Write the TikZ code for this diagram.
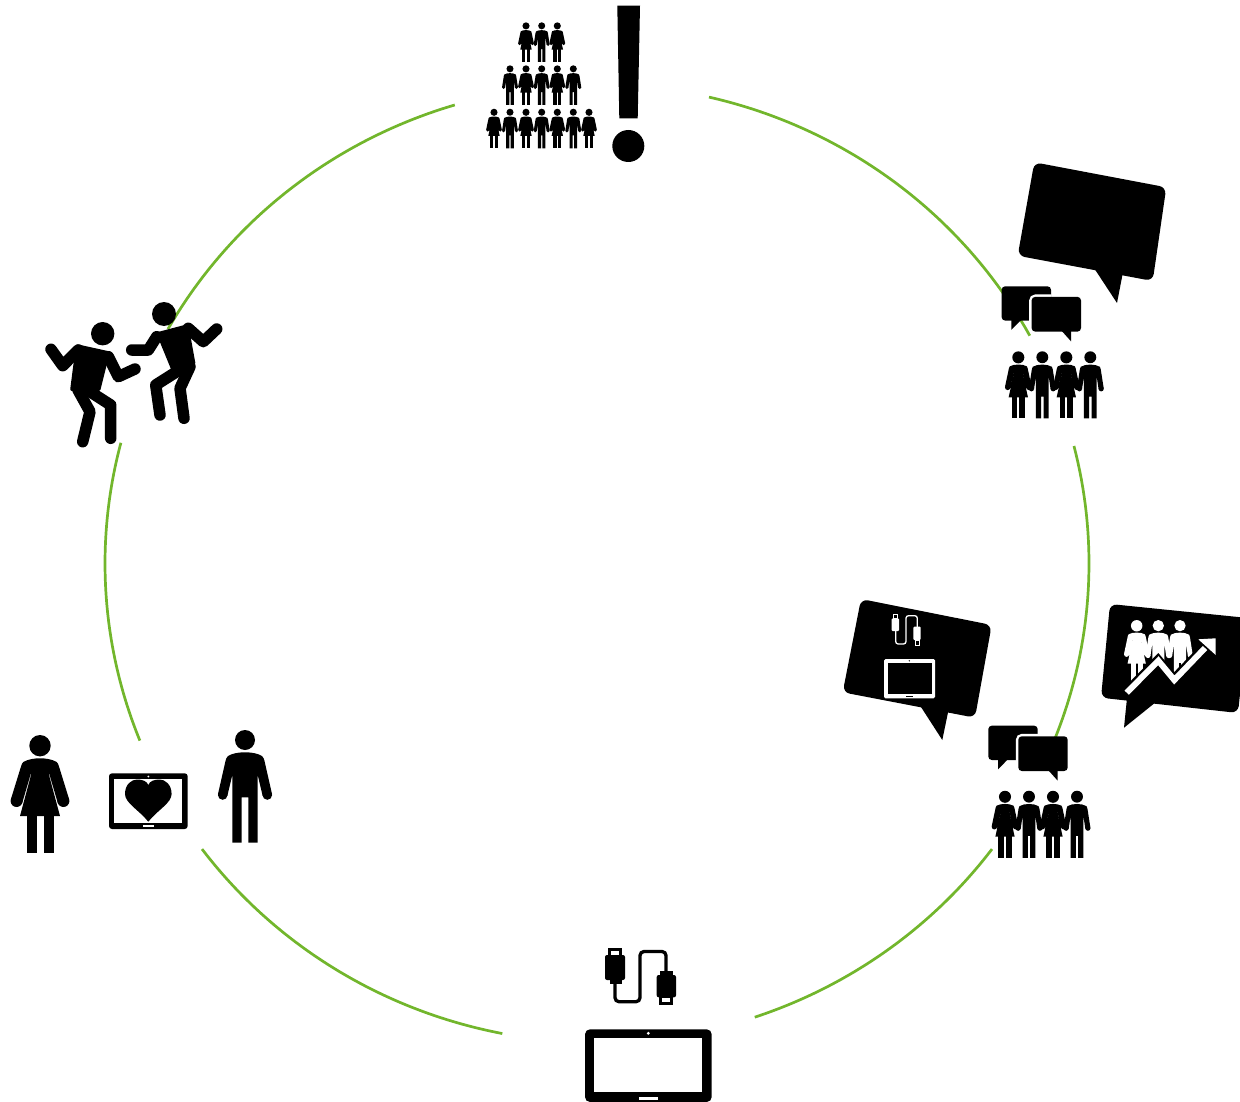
\documentclass[tikz,border=0pt]{standalone}
\definecolor{ringgreen}{HTML}{72B62C}
\colorlet{figfill}{black}
\tikzset{
  x=1pt,y=-1pt,
  ringarc/.style={draw=ringgreen,line width=2.7pt,line cap=butt},
  limb/.style={draw=black,line width=11.5pt,line cap=round,line join=round},
  bubble/.style={fill=black,rounded corners=7pt},
  personf/.pic={
    \fill[figfill] (0,10.7) circle[radius=10.7];
    \fill[figfill] (0,23.3) .. controls (-6,23.3) and (-12,24.3) .. (-16.7,27) .. controls (-18,28) and (-18.5,30) .. (-19,31.5)
      -- (-29.2,64.5) -- (-17.8,68) -- (-9.3,39) -- (-8.7,39) -- (-20,81) -- (20,81) -- (8.7,39) -- (9.3,39) -- (17.8,68) -- (29.2,64.5) -- (19,31.5)
      .. controls (18.5,30) and (18,28) .. (16.7,27) .. controls (12,24.3) and (6,23.3) .. (0,23.3) -- cycle;
    \fill[figfill] (-23.4,66) circle[radius=6];
    \fill[figfill] (23.4,66) circle[radius=6];
    \fill[figfill] (-13.5,80) rectangle (-3.5,118);
    \fill[figfill] (3.5,80) rectangle (13.5,118);
  },
  personm/.pic={
    \fill[figfill] (0,10) circle[radius=10];
    \fill[figfill] (0,22.3) .. controls (-7,22.3) and (-13,23.5) .. (-17,26) .. controls (-18.5,27.5) and (-19,29) .. (-19.5,31)
      -- (-27,64) -- (-17.7,66) -- (-12.7,45) -- (-12.7,112.7) -- (-3.3,112.7) -- (-3.3,67.3) -- (3.3,67.3) -- (3.3,112.7) -- (12.7,112.7)
      -- (12.7,45) -- (17.7,66) -- (27,64) -- (19.5,31) .. controls (19,29) and (18.5,27.5) .. (17,26) .. controls (13,23.5) and (7,22.3) .. (0,22.3) -- cycle;
    \fill[figfill] (-22.3,65) circle[radius=4.8];
    \fill[figfill] (22.3,65) circle[radius=4.8];
  },
  smallf/.pic={
    \fill[figfill] (0,10.7) circle[radius=10.6];
    \fill[figfill] (0,23.3) .. controls (-6,23.3) and (-11,24.3) .. (-15,26.5) -- (-16.5,30)
      -- (-23.3,62) -- (-14,65) -- (-8.2,38) -- (-7.6,38) -- (-17,81) -- (17,81) -- (7.6,38) -- (8.2,38) -- (14,65) -- (23.3,62) -- (16.5,30)
      -- (15,26.5) .. controls (11,24.3) and (6,23.3) .. (0,23.3) -- cycle;
    \fill[figfill] (-18.7,63.5) circle[radius=4.8];
    \fill[figfill] (18.7,63.5) circle[radius=4.8];
    \fill[figfill] (-11.5,80) rectangle (-2,118);
    \fill[figfill] (2,80) rectangle (11.5,118);
  },
  smallm/.pic={
    \fill[figfill] (0,10) circle[radius=10];
    \fill[figfill] (0,22.3) .. controls (-6,22.3) and (-12,23.5) .. (-16,26) -- (-17.5,30)
      -- (-22.5,62) -- (-14,64) -- (-10.7,42) -- (-10.7,112.7) -- (-2,112.7) -- (-2,76) -- (2,76) -- (2,112.7) -- (10.7,112.7)
      -- (10.7,42) -- (14,64) -- (22.5,62) -- (17.5,30) -- (16,26) .. controls (12,23.5) and (6,22.3) .. (0,22.3) -- cycle;
    \fill[figfill] (-18.3,63) circle[radius=4.4];
    \fill[figfill] (18.3,63) circle[radius=4.4];
  },
  chatgroup/.pic={
    \fill[black,rounded corners=3.5pt] (-16.7,-65) rectangle (32.7,-30.7);
    \fill[black] (-7,-31.5) -- (-7,-21.4) -- (3,-31.5) -- cycle;
    \begin{scope}
      \clip (-17,-65.5) rectangle (33,-30);
      \draw[white,line width=5pt,rounded corners=4pt] (13.3,-54.4) rectangle (62.7,-19.7);
    \end{scope}
    \fill[black,rounded corners=3.5pt] (13.3,-54.4) rectangle (62.7,-19.7);
    \fill[black] (43.3,-20.5) -- (52.7,-10) -- (52.7,-20.5) -- cycle;
    \pic[scale=.568] at (0,0) {smallf};
    \pic[scale=.595] at (24,0) {smallm};
    \pic[scale=.568] at (48,0) {smallf};
    \pic[scale=.595] at (72,0) {smallm};
  }
}
\newcommand{\Wo}[3]{\pic[scale=#3] at (#1,#2) {smallf};}
\newcommand{\Mn}[3]{\pic[scale=#3] at (#1,#2) {smallm};}
\newcommand{\ringseg}[2]{\draw[ringarc] plot[domain=#1:#2,samples=70,smooth] ({597+492*cos(\x)},{563.5+479*sin(\x)});}
\begin{document}
\begin{tikzpicture}
\useasboundingbox (0,0) rectangle (1240,1102);
\clip (0,0) rectangle (1240,1102);
% ring
\ringseg{-76.84}{-28.4}
\ringseg{-14.2}{21.4}
\ringseg{36.6}{71.3}
\ringseg{101.1}{143.4}
\ringseg{158.3}{194.6}
\ringseg{209.3}{253.2}
% pyramid
\def\sf{.336}\def\sm{.352}
\Wo{526}{22.3}{\sf}\Mn{541.7}{22.3}{\sm}\Wo{557.3}{22.3}{\sf}
\Mn{510}{65.3}{\sm}\Wo{526}{65.3}{\sf}\Mn{541.7}{65.3}{\sm}\Wo{557.3}{65.3}{\sf}\Mn{573.3}{65.3}{\sm}
\Wo{494}{108.7}{\sf}\Mn{510}{108.7}{\sm}\Wo{526}{108.7}{\sf}\Mn{541.7}{108.7}{\sm}\Wo{557.3}{108.7}{\sf}\Mn{573.3}{108.7}{\sm}\Wo{589}{108.7}{\sf}
% exclamation mark
\fill (617.3,5.7) -- (640,5.7) -- (637.7,118.3) -- (619.3,118.3) -- cycle;
\fill (628.3,146) circle[radius=16];
% big empty bubble
\fill[bubble] (1034.3,162.3) -- (1166.3,187.3) -- (1152.7,281) -- (1017.7,255.7) -- cycle;
\fill (1094,268) -- (1117,303) -- (1123,272) -- cycle;
% groups
\pic at (1018.3,351.3) {chatgroup};
\pic at (1005,790.7) {chatgroup};
% bubble with cable and tablet
\fill[bubble] (861,599) -- (991.7,625) -- (975,717.7) -- (842.7,692.3) -- cycle;
\fill (919.7,705) -- (942.3,740) -- (948.5,710) -- cycle;
\fill[white,rounded corners=1.5pt] (884,659) rectangle (935,698.3);
\fill[black] (887.7,662.7) rectangle (931.7,694.3);
\fill[black] (909.3,660.8) circle[radius=.7];
\fill[black] (905.5,695.6) rectangle (913.3,697);
\draw[white,line width=1.3pt,rounded corners=2.5pt] (895.7,631) -- (895.7,644) -- (906,644) -- (906,615.7) -- (917.3,615.7) -- (917.3,627);
\fill[white,rounded corners=1pt] (891.7,618.3) rectangle (899,631);
\draw[white,line width=.9pt] (893.5,614.7) rectangle (897.2,618.3);
\fill[white,rounded corners=1pt] (913.3,626.7) rectangle (920.7,640);
\draw[white,line width=.9pt] (915,640) rectangle (919,645.3);
% bubble with people and rising arrow
\fill[bubble] (1110,604) -- (1248,618) -- (1238,713) -- (1101,697.7) -- cycle;
\fill (1127,698) -- (1124,727.7) -- (1156,702) -- cycle;
\begin{scope}
\colorlet{figfill}{white}
\Wo{1136.7}{620}{.54}
\Mn{1158.3}{620}{.565}
\Mn{1180}{620}{.565}
\end{scope}
\fill (1115,697) -- (1158.3,653) -- (1174.3,672) -- (1215,630) -- (1225,700) -- cycle;
\draw[white,line width=6pt] (1126.7,692.7) -- (1158.3,660.7) -- (1174.3,680) -- (1205,648);
\fill[white] (1198.3,639.3) -- (1215.7,638.3) -- (1215.7,655) -- cycle;
% tablet with cable (bottom)
\fill[rounded corners=5pt] (585,1029.3) rectangle (711.7,1102);
\fill[white] (594.3,1037.7) rectangle (702.3,1091.7);
\fill[white] (648.3,1033.3) circle[radius=1.6];
\fill[white] (639,1097.3) rectangle (657.7,1100);
\draw[line width=3.3pt,rounded corners=4pt] (615,983) -- (615,1001.7) -- (640,1001.7) -- (640,951.5) -- (666,951.5) -- (666,975);
\fill[rounded corners=2pt] (605,955) rectangle (625,980);
\fill (610,979) rectangle (621.7,983.5);
\draw[line width=2.6pt] (609.6,949.6) rectangle (620.6,956);
\fill[rounded corners=2pt] (656.7,975) rectangle (676,997.3);
\fill (659.5,970.7) rectangle (672.7,976);
\draw[line width=2.6pt] (660.6,997) rectangle (671.4,1003.7);
% couple and heart tablet
\pic at (40,735) {personf};
\pic at (245,730) {personm};
\fill[rounded corners=3pt] (109,773.3) rectangle (187.7,829);
\fill[white] (114.3,779) rectangle (182.3,823.3);
\fill[white] (148.3,776.5) circle[radius=1];
\fill[white] (142.7,825) rectangle (154,826.8);
\fill (148.3,821.7) .. controls (139,810) and (125,803) .. (125,794) .. controls (125,784) and (132,779.5) .. (137,779.5)
  .. controls (142,779.5) and (147,781) .. (148.3,785) .. controls (149.6,781) and (154.6,779.5) .. (159.6,779.5)
  .. controls (164.6,779.5) and (171.6,784) .. (171.6,794) .. controls (171.6,803) and (157.6,810) .. (148.3,821.7) -- cycle;
% dancers
\fill (102.7,333.7) circle[radius=11.7];
\fill[rounded corners=2pt] (76,344) -- (110,351.5) -- (100,391.7) -- (70,391) -- cycle;
\draw[limb] (78.3,350) -- (62.7,365.7) -- (51,349.3);
\draw[limb] (108.3,356.7) -- (118.3,376.7) -- (135,369);
\draw[limb] (78,390) -- (90,411.7) -- (82.7,441.7);
\draw[limb] (90,391.7) -- (110.7,405) -- (110.7,438.3);
\fill (164,314) circle[radius=12];
\fill[rounded corners=2pt] (156,332.5) -- (188.3,324) -- (195.7,365) -- (173,374) -- cycle;
\draw[limb] (156.7,336.7) -- (148.3,350) -- (131.7,350);
\draw[limb] (188.3,328.3) -- (203.3,341.7) -- (216.7,329);
\draw[limb] (176.7,371.7) -- (155.7,385) -- (160,415);
\draw[limb] (190,366.7) -- (180,388.3) -- (184,418.3);
\end{tikzpicture}
\end{document}
